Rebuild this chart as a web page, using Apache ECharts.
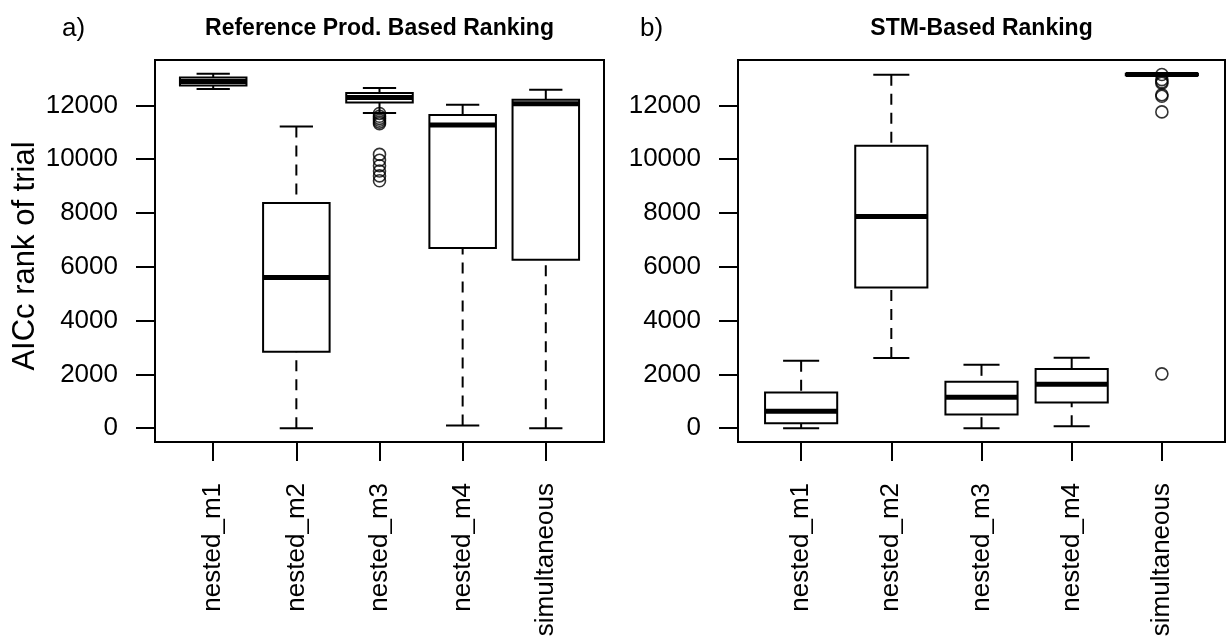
<!DOCTYPE html>
<html><head><meta charset="utf-8">
<script src="https://cdn.jsdelivr.net/npm/echarts@6/dist/echarts.min.js"></script>
<style>html,body{margin:0;padding:0;background:#fff}#c{width:1227px;height:644px}</style>
</head><body><div id="c"></div>
<script>
const categories = ['nested_m1', 'nested_m2', 'nested_m3', 'nested_m4', 'simultaneous'];
const yTicks = [0, 2000, 4000, 6000, 8000, 10000, 12000];
// [lower whisker, Q1, median, Q3, upper whisker]
const refStats = [
  [12612, 12746, 12894, 13043, 13181],
  [0, 2839, 5603, 8371, 11220],
  [11719, 12113, 12300, 12463, 12649],
  [97, 6696, 11272, 11644, 12028],
  [0, 6261, 12065, 12214, 12586]
];
const refOutliers = [
  [],
  [],
  [11700, 11600, 11520, 11450, 11380, 11320, 10180, 9960, 9760, 9560, 9380, 9200],
  [],
  []
];
const stmStats = [
  [0, 186, 632, 1325, 2504],
  [2604, 5231, 7872, 10502, 13144],
  [0, 506, 1153, 1723, 2355],
  [74, 952, 1637, 2195, 2615],
  [13110, 13120, 13150, 13180, 13190]
];
const stmOutliers = [
  [],
  [],
  [],
  [],
  [13150, 12960, 12880, 12830, 12400, 12340, 11760, 2020]
];

const FONT = '"Liberation Sans", Arial, Helvetica, sans-serif';
function boxData(stats) { return stats.map((s, i) => [i + 1].concat(s)); }
function outData(outs) { const r = []; outs.forEach((o, i) => o.forEach(v => r.push([i + 1, v]))); return r; }

function renderBox(params, api) {
  const x = api.value(0);
  const lo = api.coord([x, api.value(1)]);
  const q1 = api.coord([x, api.value(2)]);
  const md = api.coord([x, api.value(3)]);
  const q3 = api.coord([x, api.value(4)]);
  const hi = api.coord([x, api.value(5)]);
  const hw = api.size([0.8, 0])[0] / 2;
  const cw = api.size([0.4, 0])[0] / 2;
  const cx = lo[0];
  const st = { stroke: '#000', lineWidth: 2, fill: null };
  const dash = { stroke: '#000', lineWidth: 2, lineDash: [11, 8], fill: null };
  return { type: 'group', children: [
    { type: 'line', shape: { x1: cx, y1: hi[1], x2: cx, y2: q3[1] }, style: dash },
    { type: 'line', shape: { x1: cx, y1: lo[1], x2: cx, y2: q1[1] }, style: dash },
    { type: 'line', shape: { x1: cx - cw, y1: hi[1], x2: cx + cw, y2: hi[1] }, style: st },
    { type: 'line', shape: { x1: cx - cw, y1: lo[1], x2: cx + cw, y2: lo[1] }, style: st },
    { type: 'rect', shape: { x: cx - hw, y: q3[1], width: 2 * hw, height: q1[1] - q3[1] }, style: { fill: '#fff', stroke: '#000', lineWidth: 2 } },
    { type: 'line', shape: { x1: cx - hw, y1: md[1], x2: cx + hw, y2: md[1] }, style: { stroke: '#000', lineWidth: 5 } }
  ] };
}

function xAxisCfg(gi) {
  return {
    gridIndex: gi, type: 'value', min: 0.3, max: 5.7,
    axisLine: { show: true, onZero: false, lineStyle: { color: '#000', width: 2 } },
    splitLine: { show: false },
    axisTick: { show: true, customValues: [1, 2, 3, 4, 5], length: 19, lineStyle: { color: '#000', width: 2 } },
    axisLabel: { customValues: [1, 2, 3, 4, 5], formatter: v => categories[Math.round(v) - 1], rotate: 90, margin: 41,
      fontSize: 26, color: '#000', fontFamily: FONT }
  };
}
function yAxisCfg(gi) {
  return {
    gridIndex: gi, type: 'value', min: -515, max: 13690,
    axisLine: { show: true, onZero: false, lineStyle: { color: '#000', width: 2 } },
    splitLine: { show: false },
    axisTick: { show: true, customValues: yTicks, length: 19, lineStyle: { color: '#000', width: 2 } },
    axisLabel: { customValues: yTicks, formatter: v => String(v), margin: 37, fontSize: 26, color: '#000', fontFamily: FONT }
  };
}
function scatterCfg(gi, data) {
  return { type: 'scatter', xAxisIndex: gi, yAxisIndex: gi, data: data, symbol: 'circle', symbolSize: 12,
    itemStyle: { color: 'rgba(0,0,0,0)', borderColor: '#000', borderWidth: 1.6 }, z: 3, silent: true };
}

const chart = echarts.init(document.getElementById('c'), null, { renderer: 'canvas' });
chart.setOption({
  animation: false,
  backgroundColor: '#fff',
  grid: [
    { left: 155, top: 60, width: 449, height: 382, show: true, borderColor: '#000', borderWidth: 2, backgroundColor: 'transparent' },
    { left: 738, top: 60, width: 487, height: 382, show: true, borderColor: '#000', borderWidth: 2, backgroundColor: 'transparent' }
  ],
  xAxis: [xAxisCfg(0), xAxisCfg(1)],
  yAxis: [yAxisCfg(0), yAxisCfg(1)],
  series: [
    { type: 'custom', xAxisIndex: 0, yAxisIndex: 0, renderItem: renderBox, data: boxData(refStats), z: 2, silent: true },
    scatterCfg(0, outData(refOutliers)),
    { type: 'custom', xAxisIndex: 1, yAxisIndex: 1, renderItem: renderBox, data: boxData(stmStats), z: 2, silent: true },
    scatterCfg(1, outData(stmOutliers))
  ],
  graphic: [
    { type: 'text', x: 62, y: 29, style: { text: 'a)', font: '26px ' + FONT, fill: '#000', textVerticalAlign: 'middle' } },
    { type: 'text', x: 379.5, y: 29, style: { text: 'Reference Prod. Based Ranking', font: 'bold 23px ' + FONT, fill: '#000', textAlign: 'center', textVerticalAlign: 'middle' } },
    { type: 'text', x: 640, y: 29, style: { text: 'b)', font: '26px ' + FONT, fill: '#000', textVerticalAlign: 'middle' } },
    { type: 'text', x: 981.5, y: 29, style: { text: 'STM-Based Ranking', font: 'bold 23px ' + FONT, fill: '#000', textAlign: 'center', textVerticalAlign: 'middle' } },
    { type: 'text', x: 25, y: 256, rotation: Math.PI / 2, style: { text: 'AICc rank of trial', font: '31px ' + FONT, fill: '#000', textAlign: 'center', textVerticalAlign: 'middle' } }
  ]
});
</script>
</body></html>
